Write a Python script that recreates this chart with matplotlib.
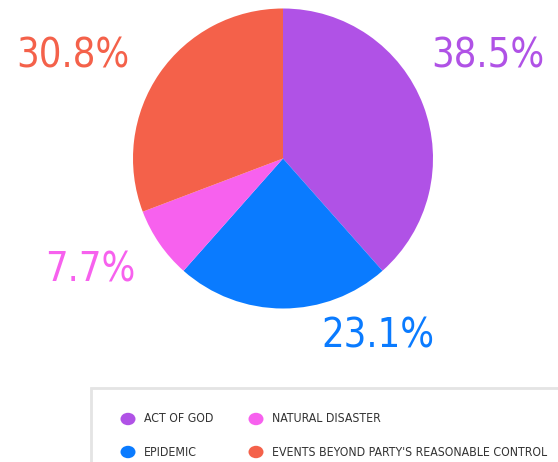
import matplotlib.pyplot as plt
from matplotlib.patches import Rectangle, Circle

categories = ["ACT OF GOD", "EPIDEMIC", "NATURAL DISASTER",
              "EVENTS BEYOND PARTY'S REASONABLE CONTROL"]
shares = [38.5, 23.1, 7.7, 30.8]
colors = ["#b052e6", "#0a7bff", "#f761ee", "#f4614a"]

# where each percentage label sits (figure pixels, origin top-left)
label_pos = [(488, 57), (378, 336), (90, 270), (73, 57)]

W, H = 558, 462
fig = plt.figure(figsize=(W / 100, H / 100), dpi=100)


def fx(px):
    return px / W


def fy(py):
    return 1 - py / H


# pie
ax = fig.add_axes([fx(133), fy(308.5), 300 / W, 300 / H])
ax.pie(shares, colors=colors, startangle=90, counterclock=False,
       radius=1, wedgeprops=dict(linewidth=0))
ax.set_xlim(-1, 1)
ax.set_ylim(-1, 1)
ax.set_aspect("equal")
ax.axis("off")

for val, col, (px, py) in zip(shares, colors, label_pos):
    fig.text(fx(px), fy(py), "%.1f%%" % val, color=col, fontsize=28.5,
             family="DejaVu Sans", fontstretch="condensed", fontweight="medium",
             ha="center", va="center")

# legend box, runs off the right and bottom edges
fig.patches.append(Rectangle((fx(91), fy(500)), 1, fy(388) - fy(500),
                             transform=fig.transFigure, facecolor="white",
                             edgecolor="#e4e4e4", linewidth=2))

leg_items = [(128, 419), (128, 452), (256, 419), (256, 452)]
for name, col, (px, py) in zip(categories, colors, leg_items):
    fig.patches.append(Circle((fx(px), fy(py)), 7.5 / W, transform=fig.transFigure,
                              facecolor=col, edgecolor="none"))
    fig.text(fx(px + 16), fy(py), name, color="#333333", fontsize=8.8,
             family="DejaVu Sans", fontstretch="condensed",
             ha="left", va="center")

fig.savefig("out.png", dpi=100)
